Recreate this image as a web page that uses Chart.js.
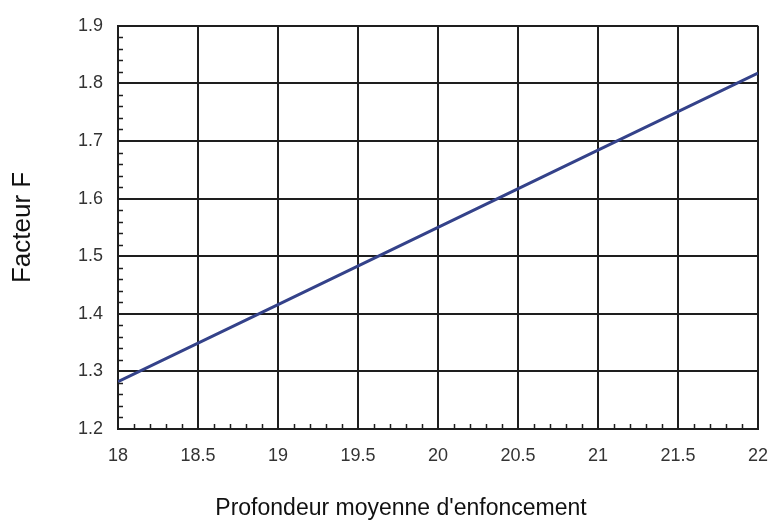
<!DOCTYPE html>
<html>
<head>
<meta charset="utf-8">
<script src="https://cdn.jsdelivr.net/npm/chart.js@4/dist/chart.umd.min.js"></script>
<style>
 html, body { margin: 0; padding: 0; background: #fff; }
 #wrap { width: 770px; height: 522px; }
</style>
</head>
<body>
<div id="wrap"><canvas id="chart" width="770" height="522"></canvas></div>
<script>
// depth values (x) and F factor (y)
const depths = [18, 19, 20, 21, 22];
const factorF = [1.282, 1.416, 1.55, 1.684, 1.818];
const xTitle = "Profondeur moyenne d'enfoncement";
const yTitle = 'Facteur F';

const gridColor = '#1e1e1e';
const tickFont = { family: 'Liberation Sans', size: 18 };

// small inner ticks between the grid lines + the x title (sits a bit left of the plot centre)
const extras = {
 id: 'extras',
 afterDraw(chart) {
   const ctx = chart.ctx;
   const xs = chart.scales.x, ys = chart.scales.y;
   ctx.save();
   ctx.strokeStyle = gridColor;
   ctx.lineWidth = 1.5;
   ctx.beginPath();
   for (let i = 0; i <= 40; i++) {
     if (i % 5 === 0) continue;
     const px = Math.round(xs.getPixelForValue(18 + i * 0.1)) + 0.5;
     ctx.moveTo(px, ys.bottom);
     ctx.lineTo(px, ys.bottom - 5);
   }
   for (let j = 0; j <= 35; j++) {
     if (j % 5 === 0) continue;
     const py = Math.round(ys.getPixelForValue(1.2 + j * 0.02)) + 0.5;
     ctx.moveTo(xs.left, py);
     ctx.lineTo(xs.left + 5, py);
   }
   ctx.stroke();

   ctx.fillStyle = '#111';
   ctx.font = '23px "Liberation Sans"';
   ctx.textAlign = 'center';
   ctx.textBaseline = 'middle';
   ctx.fillText(xTitle, 401, 509);
   ctx.restore();
 }
};

new Chart(document.getElementById('chart'), {
 type: 'line',
 data: {
   datasets: [{
     data: depths.map((d, i) => ({ x: d, y: factorF[i] })),
     borderColor: '#34428a',
     borderWidth: 3,
     pointRadius: 0,
     tension: 0,
     fill: false
   }]
 },
 options: {
   responsive: false,
   animation: false,
   layout: { padding: { left: 0, right: 0, top: 23, bottom: 0 } },
   plugins: { legend: { display: false }, tooltip: { enabled: false } },
   scales: {
     x: {
       type: 'linear',
       min: 18, max: 22,
       afterFit: s => { s.height = 93; s.paddingRight = 12; s.paddingLeft = 0; },
       ticks: {
         stepSize: 0.5, padding: 16, color: '#333', font: tickFont,
         callback: v => String(Math.round(v * 10) / 10)
       },
       grid: { color: gridColor, lineWidth: 2, drawTicks: false },
       border: { color: gridColor, width: 2 }
     },
     y: {
       min: 1.2, max: 1.9,
       afterFit: s => { s.width = 118; },
       ticks: {
         stepSize: 0.1, padding: 15, color: '#333', font: tickFont,
         callback: v => (Math.round(v * 10) / 10).toFixed(1)
       },
       grid: { color: gridColor, lineWidth: 2, drawTicks: false },
       border: { color: gridColor, width: 2 },
       title: { display: true, text: yTitle, color: '#111', font: { family: 'Liberation Sans', size: 26, lineHeight: 1 }, padding: { top: 10 } }
     }
   }
 },
 plugins: [extras]
});
</script>
</body>
</html>
